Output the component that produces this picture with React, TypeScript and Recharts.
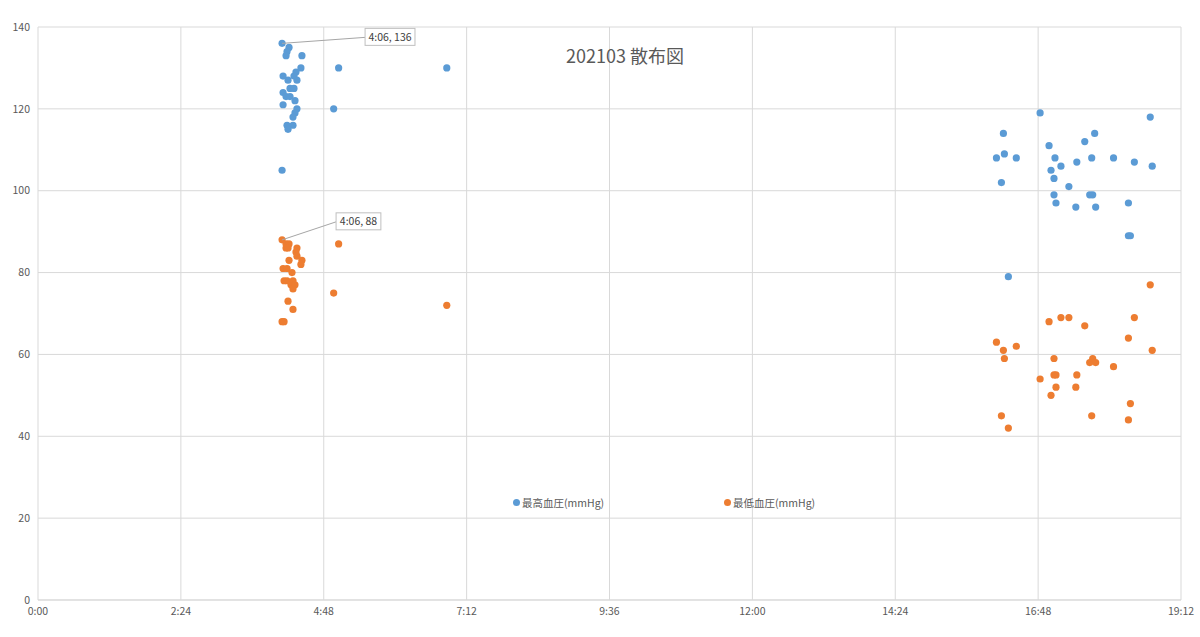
import React from 'react';
import { ScatterChart, Scatter, XAxis, YAxis, CartesianGrid } from 'recharts';

// times are minutes after 0:00
const highTimes = [
  246, 253, 251, 250, 266, 265, 303, 412, 260, 258, 247, 252, 261, 254, 258, 247, 250, 254, 259, 247,
  261, 298, 259, 257, 251, 257, 252, 246,
  1010, 1121, 973, 1065, 1055, 1019, 974, 966, 986, 1025, 1062, 1084, 1047, 1105, 1031, 1123, 1021,
  1024, 971, 1039, 1024, 1060, 1063, 1026, 1099, 1046, 1066, 1099, 1101, 978
];
const highValues = [
  136, 135, 134, 133, 133, 130, 130, 130, 129, 128, 128, 127, 127, 125, 125, 124, 123, 123, 122, 121,
  120, 120, 119, 118, 116, 116, 115, 105,
  119, 118, 114, 114, 112, 111, 109, 108, 108, 108, 108, 108, 107, 107, 106, 106, 105,
  103, 102, 101, 99, 99, 99, 97, 97, 96, 96, 89, 89, 79
];
const lowTimes = [
  246, 250, 253, 250, 252, 261, 303, 260, 253, 261, 266, 265, 247, 251, 256, 248, 251, 255, 257, 259,
  257, 298, 252, 412, 257, 246, 248,
  1121, 1105, 1019, 1031, 1039, 1055, 1099, 966, 973, 986, 1123, 974, 1024, 1060, 1063, 1066, 1084,
  1024, 1026, 1047, 1010, 1026, 1046, 1021, 1101, 971, 1062, 1099, 978
];
const lowValues = [
  88, 87, 87, 86, 86, 86, 87, 85, 83, 84, 83, 82, 81, 81, 80, 78, 78, 77, 78, 77,
  76, 75, 73, 72, 71, 68, 68,
  77, 69, 68, 69, 69, 67, 64, 63, 61, 62, 61, 59, 59, 58, 59, 58, 57,
  55, 55, 55, 54, 52, 52, 50, 48, 45, 45, 44, 42
];
const xTicks = [0, 144, 288, 432, 576, 720, 864, 1008, 1152];
const yTicks = [0, 20, 40, 60, 80, 100, 120, 140];
const highCalloutIndex = 0;
const lowCalloutIndex = 0;

const BLUE = '#5B9BD5';
const ORANGE = '#ED7D31';
const GRAY = '#595959';
const FONT = '"Noto Sans CJK JP", "Noto Sans", sans-serif';

const fmtTime = (m: number) => `${Math.floor(m / 60)}:${String(m % 60).padStart(2, '0')}`;

const highData = highTimes.map((t, i) => ({ t, v: highValues[i], callout: i === highCalloutIndex }));
const lowData = lowTimes.map((t, i) => ({ t, v: lowValues[i], callout: i === lowCalloutIndex }));

const makeShape = (color: string, dx: number, dy: number) => (props: any) => {
  const { cx, cy, payload } = props;
  const text = `${fmtTime(payload.t)}, ${payload.v}`;
  const w = text.length * 5.1 + 4;
  return (
    <g>
      <circle cx={cx} cy={cy} r={3.6} fill={color} />
      {payload.callout && (
        <g>
          <line x1={cx} y1={cy} x2={cx + dx} y2={cy + dy + 9} stroke="#a6a6a6" strokeWidth={1} />
          <rect x={cx + dx} y={cy + dy} width={w} height={17} fill="#fff" stroke="#bfbfbf" />
          <text x={cx + dx + w / 2} y={cy + dy + 12.5} textAnchor="middle" fontSize={10.5} fill="#404040" fontFamily={FONT}>
            {text}
          </text>
        </g>
      )}
    </g>
  );
};

const legendItems = [
  { name: '最高血圧(mmHg)', color: BLUE, left: 513 },
  { name: '最低血圧(mmHg)', color: ORANGE, left: 724 }
];

export default function App() {
  return (
    <div style={{ position: 'relative', width: 1200, height: 637, background: '#fff' }}>
      <style>{'body{margin:0}'}</style>
      <div
        style={{
          position: 'absolute', left: 0, width: 1250, top: 42, textAlign: 'center',
          fontFamily: FONT, fontSize: 18, color: GRAY, zIndex: 2
        }}
      >
        202103 散布図
      </div>
      {legendItems.map((it) => (
        <div
          key={it.name}
          style={{
            position: 'absolute', left: it.left, top: 495, display: 'flex', alignItems: 'center',
            fontFamily: FONT, fontSize: 10.5, color: GRAY, zIndex: 2
          }}
        >
          <span style={{ width: 7, height: 7, borderRadius: '50%', background: it.color, marginRight: 2 }} />
          {it.name}
        </div>
      ))}
      <ScatterChart width={1200} height={637} margin={{ top: 27, right: 19, left: 0, bottom: 0 }}>
        <CartesianGrid stroke="#d9d9d9" strokeWidth={1} />
        <XAxis
          type="number"
          dataKey="t"
          domain={[0, 1152]}
          ticks={xTicks}
          tickFormatter={fmtTime}
          height={37}
          axisLine={{ stroke: '#d9d9d9' }}
          tickLine={false}
          tick={{ fill: GRAY, fontSize: 10.5, fontFamily: FONT }}
          interval={0}
        />
        <YAxis
          type="number"
          dataKey="v"
          domain={[0, 140]}
          ticks={yTicks}
          width={38}
          axisLine={false}
          tickLine={false}
          tick={{ fill: GRAY, fontSize: 10.5, fontFamily: FONT }}
          interval={0}
        />
        <Scatter name="最低血圧(mmHg)" data={lowData} fill={ORANGE} shape={makeShape(ORANGE, 54, -27)} isAnimationActive={false} />
        <Scatter name="最高血圧(mmHg)" data={highData} fill={BLUE} shape={makeShape(BLUE, 83, -15)} isAnimationActive={false} />
      </ScatterChart>
    </div>
  );
}
